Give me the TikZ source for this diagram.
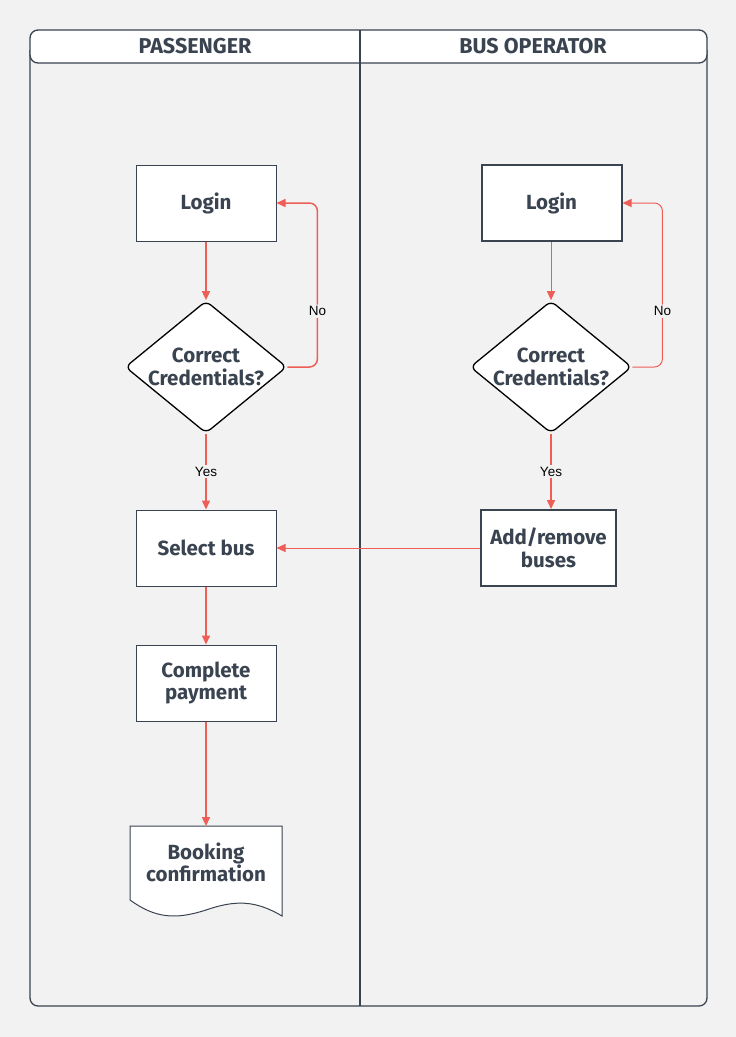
\documentclass[tikz,border=0pt]{standalone}
\usepackage{fontspec}
\setmainfont{Fira Sans}
\newfontfamily\tagfont{Liberation Sans}
\usetikzlibrary{arrows.meta,shapes.geometric}
\definecolor{ink}{HTML}{3A4350}
\definecolor{flow}{HTML}{EE5E57}
\definecolor{paper}{HTML}{F2F2F2}
\begin{document}
\begin{tikzpicture}[x=1pt,y=-1pt,
  lane/.style={draw=ink,line width=1.3pt},
  lanetitle/.style={text=ink,font=\bfseries\fontsize{21.5}{24}\selectfont},
  procbox/.style={draw=ink,fill=white,line width=1pt,minimum width=140pt,minimum height=76pt,
    inner sep=2pt,align=center,text=ink,font=\bfseries\fontsize{20.5}{22.5}\selectfont},
  opbox/.style={procbox,line width=2pt},
  decision/.style={diamond,draw=black,fill=white,line width=1.3pt,rounded corners=6pt,aspect=1.22,
    inner sep=0pt,minimum width=158pt,minimum height=129pt,align=center,text=ink,
    font=\bfseries\fontsize{20.5}{22.5}\selectfont},
  docbox/.style={minimum width=152pt,minimum height=72pt,align=center,text=ink,
    font=\bfseries\fontsize{20.5}{22.5}\selectfont},
  flowline/.style={draw=flow,line width=1.5pt,-{Triangle[length=9pt,width=8pt]}},
  thinflow/.style={flowline,line width=1pt},
  tag/.style={fill=paper,inner sep=2pt,font=\tagfont\fontsize{13.5}{15}\selectfont}]
 \useasboundingbox[fill=paper] (0,0) rectangle (736,1037);
 \draw[lane,rounded corners=8pt] (30,50) -- (30,1006) -- (707,1006) -- (707,50);
 \draw[lane,fill=white,rounded corners=8pt] (30,30) rectangle (707,63);
 \draw[lane] (360,30) -- (360,1006);
 \node[lanetitle] (pax) at (195,46) {PASSENGER};
 \node[lanetitle] (ops) at (533,46) {BUS OPERATOR};
 \node[procbox] (login1) at (206,203) {Login};
 \node[decision] (check1) at (206,367) {Correct\\Credentials?};
 \node[procbox] (select) at (206,548) {Select bus};
 \node[procbox] (pay) at (206,683) {Complete\\payment};
 \draw[ink,line width=1pt,fill=white] (130,826) -- (282,826) -- (282,916)
   .. controls (255,900) and (235,900) .. (206,910)
   .. controls (175,920) and (155,918) .. (130,900) -- cycle;
 \node[docbox,anchor=north] (conf) at (206,826) {Booking\\confirmation};
 \node[opbox] (login2) at (551.5,203) {Login};
 \node[decision] (check2) at (551,367) {Correct\\Credentials?};
 \node[opbox,minimum width=135pt] (buses) at (548.5,548) {Add/remove\\buses};
 \draw[flowline] (login1) -- (check1);
 \draw[flowline,rounded corners=8pt] (check1.east) -- ++(30,0) |- (login1.east) node[tag,pos=0.17] {No};
 \draw[flowline] (check1) -- (select) node[tag,midway] {Yes};
 \draw[flowline] (select) -- (pay);
 \draw[flowline] (pay) -- (conf);
 \draw[thinflow] (login2.south -| check2.north) -- (check2);
 \draw[thinflow,rounded corners=8pt] (check2.east) -- ++(30,0) |- (login2.east) node[tag,pos=0.17] {No};
 \draw[flowline] (check2.south) -- (check2.south |- buses.north) node[tag,midway] {Yes};
 \draw[thinflow] (buses) -- (select);
\end{tikzpicture}
\end{document}
